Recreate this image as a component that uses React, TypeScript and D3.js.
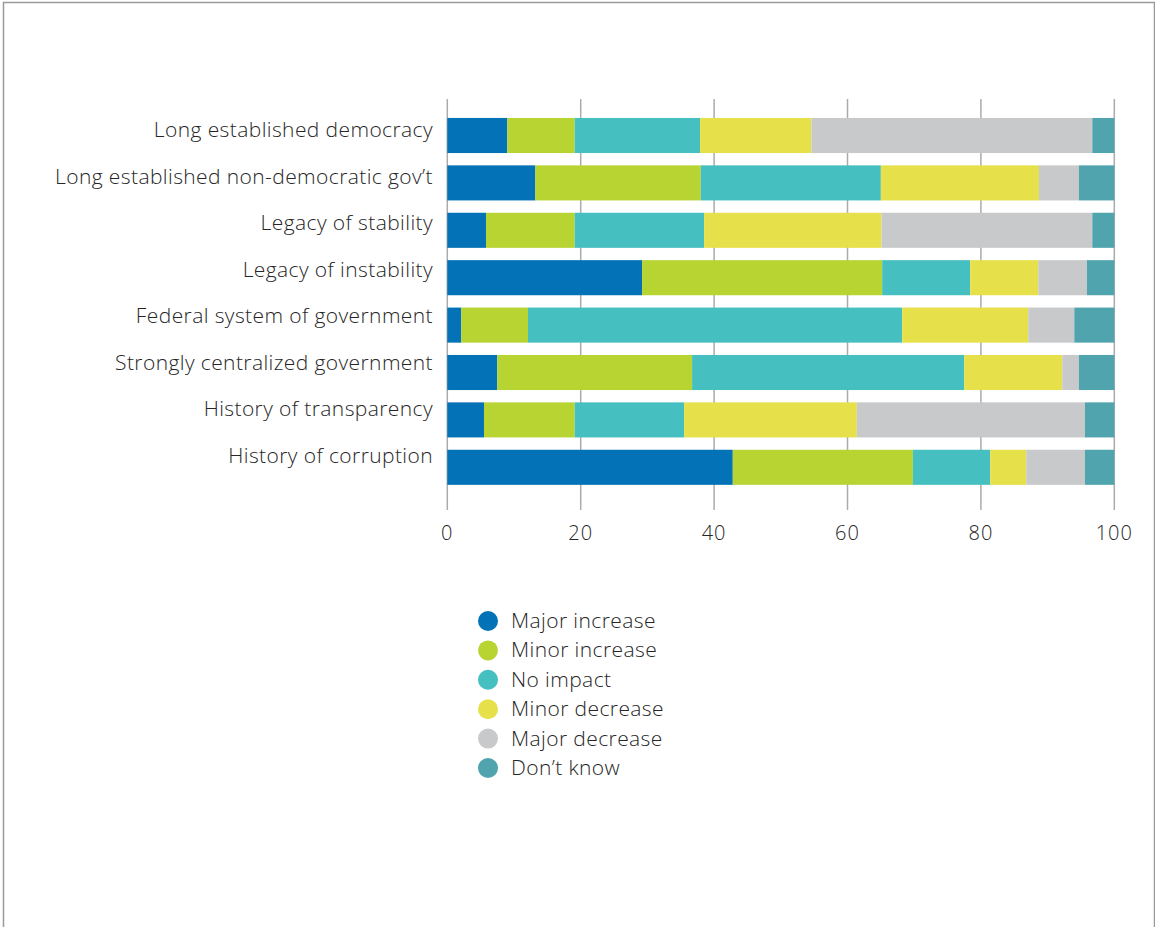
import React from "react";
import * as d3 from "d3";

const categories = [
  "Long established democracy",
  "Long established non-democratic gov’t",
  "Legacy of stability",
  "Legacy of instability",
  "Federal system of government",
  "Strongly centralized government",
  "History of transparency",
  "History of corruption",
];

const seriesNames = [
  "Major increase",
  "Minor increase",
  "No impact",
  "Minor decrease",
  "Major decrease",
  "Don’t know",
];

const colors = ["#0372b6", "#b7d433", "#46bfc0", "#e6e04a", "#c8c9cb", "#50a4ad"];

const majorIncrease = [9.0, 13.2, 5.8, 29.2, 2.1, 7.5, 5.5, 42.8];
const minorIncrease = [10.1, 24.8, 13.3, 36.0, 10.0, 29.2, 13.6, 27.0];
const noImpact = [18.8, 27.0, 19.4, 13.2, 56.1, 40.8, 16.4, 11.6];
const minorDecrease = [16.7, 23.7, 26.6, 10.2, 18.9, 14.7, 25.9, 5.4];
const majorDecrease = [42.1, 6.0, 31.6, 7.3, 6.9, 2.5, 34.2, 8.8];
const dontKnow = [3.3, 5.3, 3.3, 4.1, 6.0, 5.3, 4.4, 4.4];

const xTicks = [0, 20, 40, 60, 80, 100];

const W = 1155;
const H = 927;

export default function App() {
  const seriesValues = [majorIncrease, minorIncrease, noImpact, minorDecrease, majorDecrease, dontKnow];
  const table = categories.map((c, i) => {
    const row: Record<string, any> = { category: c };
    seriesNames.forEach((s, j) => (row[s] = seriesValues[j][i]));
    return row;
  });
  const stacked = d3.stack<any>().keys(seriesNames)(table);

  const x = d3.scaleLinear().domain([0, 100]).range([447.3, 1114.3]);
  const y = d3
    .scaleBand<string>()
    .domain(categories)
    .range([111.8, 491])
    .paddingInner(0.26)
    .paddingOuter(0.13);
  const labelY = d3.scalePoint<string>().domain(categories).range([137, 463]);
  const legendY = d3.scalePoint<string>().domain(seriesNames).range([621, 768]);

  const font = "'Open Sans', 'Noto Sans', sans-serif";

  return (
    <svg
      width={W}
      height={H}
      style={{ position: "absolute", left: 0, top: 0, background: "#fff" }}
    >
      <path d={`M3.5,${H} L3.5,2.5 L1154.5,2.5 L1154.5,${H}`} fill="none" stroke="#9a9a9a" strokeWidth={1.5} />
      {xTicks.map((t) => (
        <line key={t} x1={x(t)} x2={x(t)} y1={99} y2={510} stroke="#ababab" strokeWidth={1.5} />
      ))}
      {stacked.map((layer, j) => (
        <g key={layer.key} fill={colors[j]}>
          {layer.map((d, i) => (
            <rect
              key={i}
              x={x(d[0])}
              y={y(categories[i])}
              width={x(d[1]) - x(d[0])}
              height={y.bandwidth()}
            />
          ))}
        </g>
      ))}
      {categories.map((c) => (
        <text
          key={c}
          x={433}
          y={labelY(c)}
          textAnchor="end"
          fontFamily={font}
          fontWeight={300}
          fontSize={21}
          letterSpacing={0.4}
          fill="#262626"
        >
          {c}
        </text>
      ))}
      {xTicks.map((t) => (
        <text
          key={t}
          x={x(t)}
          y={540}
          textAnchor="middle"
          fontFamily={font}
          fontWeight={300}
          fontSize={20}
          letterSpacing={1}
          fill="#262626"
        >
          {t}
        </text>
      ))}
      {seriesNames.map((s, j) => (
        <g key={s}>
          <circle cx={488} cy={legendY(s)} r={10} fill={colors[j]} />
          <text
            x={511}
            y={(legendY(s) as number) + 7}
            fontFamily={font}
            fontWeight={300}
            fontSize={21}
            letterSpacing={0.4}
            fill="#262626"
          >
            {s}
          </text>
        </g>
      ))}
    </svg>
  );
}
